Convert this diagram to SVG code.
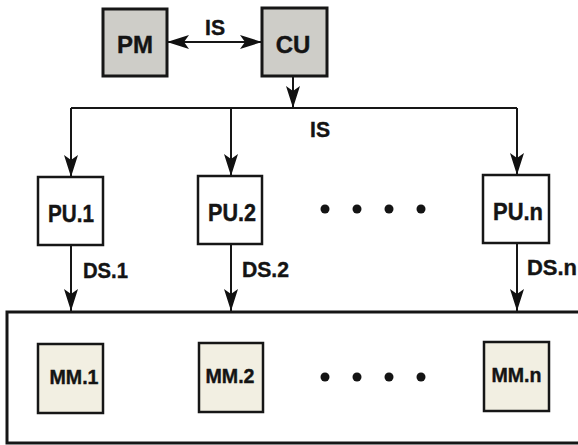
<svg xmlns="http://www.w3.org/2000/svg" width="578" height="445" viewBox="0 0 578 445">
<defs>
<marker id="ah" markerUnits="userSpaceOnUse" markerWidth="23" markerHeight="15" refX="22" refY="7.5" orient="auto-start-reverse" viewBox="0 0 23 15">
<path d="M0,0.5 L22,7.5 L0,14.5 L5,7.5 z" fill="#111"/>
</marker>
<style>
.gray{fill:#cecdc8;stroke:#161616;stroke-width:3}
.pu{fill:#fff;stroke:#161616;stroke-width:2.5}
.mm{fill:#f2efe2;stroke:#161616;stroke-width:2.5}
.big{fill:#fff;stroke:#161616;stroke-width:3}
.ln{fill:none;stroke:#161616;stroke-width:2}
.arr{fill:none;stroke:#161616;stroke-width:2;marker-end:url(#ah)}
.t{font-family:"Liberation Sans",Arial,sans-serif;font-weight:bold;fill:#141414;stroke:#141414;stroke-width:0.4;text-anchor:middle}
.big-t{font-size:24px}
.pu-t{font-size:23px}
.mm-t{font-size:19.5px}
.lab{font-family:"Liberation Sans",Arial,sans-serif;font-weight:bold;fill:#141414;stroke:#141414;stroke-width:0.4;font-size:22px}
.dot{fill:#141414}
</style>
</defs>
<rect width="578" height="445" fill="#fff"/>
<g id="memory-bank">
<rect class="big" x="7" y="312" width="580" height="131"/>
</g>
<g id="connectors">
<line class="ln" x1="167" y1="42" x2="262" y2="42" marker-start="url(#ah)" marker-end="url(#ah)"/>
<line class="arr" x1="293" y1="76" x2="293" y2="108"/>
<polyline class="ln" points="71,108 517,108"/>
<line class="arr" x1="71" y1="108" x2="71" y2="177"/>
<line class="arr" x1="231" y1="108" x2="231" y2="176"/>
<line class="arr" x1="517" y1="108" x2="517" y2="175"/>
<line class="arr" x1="71" y1="245" x2="71" y2="311"/>
<line class="arr" x1="231" y1="244" x2="231" y2="311"/>
<line class="arr" x1="517" y1="243" x2="517" y2="311"/>
<text class="lab" x="205" y="35" textLength="20" lengthAdjust="spacingAndGlyphs">IS</text>
<text class="lab" x="310" y="137" textLength="20" lengthAdjust="spacingAndGlyphs">IS</text>
<text class="lab" x="83" y="278" textLength="45" lengthAdjust="spacingAndGlyphs">DS.1</text>
<text class="lab" x="242" y="277" textLength="47" lengthAdjust="spacingAndGlyphs">DS.2</text>
<text class="lab" x="527" y="275" textLength="50" lengthAdjust="spacingAndGlyphs">DS.n</text>
</g>
<g id="PM"><rect class="gray" x="103" y="9" width="64" height="67"/><text class="t big-t" x="135" y="53">PM</text></g>
<g id="CU"><rect class="gray" x="262" y="8" width="65" height="68"/><text class="t big-t" x="293" y="53">CU</text></g>
<g id="PU1"><rect class="pu" x="38" y="177" width="65" height="68"/><text class="t pu-t" x="71" y="222" textLength="46" lengthAdjust="spacingAndGlyphs">PU.1</text></g>
<g id="PU2"><rect class="pu" x="198" y="176" width="64" height="68"/><text class="t pu-t" x="232" y="221" textLength="48" lengthAdjust="spacingAndGlyphs">PU.2</text></g>
<g id="PUn"><rect class="pu" x="483" y="175" width="66" height="68"/><text class="t pu-t" x="518" y="220" textLength="50" lengthAdjust="spacingAndGlyphs">PU.n</text></g>
<g id="pu-dots">
<circle class="dot" cx="325" cy="209" r="4.5"/><circle class="dot" cx="357" cy="209" r="4.5"/><circle class="dot" cx="389" cy="209" r="4.5"/><circle class="dot" cx="421" cy="209" r="4.5"/>
</g>
<g id="MM1"><rect class="mm" x="38" y="344" width="65" height="69"/><text class="t mm-t" x="74" y="384" textLength="49" lengthAdjust="spacingAndGlyphs">MM.1</text></g>
<g id="MM2"><rect class="mm" x="199" y="343" width="64" height="69"/><text class="t mm-t" x="230" y="383" textLength="49" lengthAdjust="spacingAndGlyphs">MM.2</text></g>
<g id="MMn"><rect class="mm" x="484" y="342" width="65" height="69"/><text class="t mm-t" x="516.5" y="382" textLength="50" lengthAdjust="spacingAndGlyphs">MM.n</text></g>
<g id="mm-dots">
<circle class="dot" cx="325" cy="377" r="4.5"/><circle class="dot" cx="357" cy="377" r="4.5"/><circle class="dot" cx="389" cy="377" r="4.5"/><circle class="dot" cx="421" cy="377" r="4.5"/>
</g>
</svg>
